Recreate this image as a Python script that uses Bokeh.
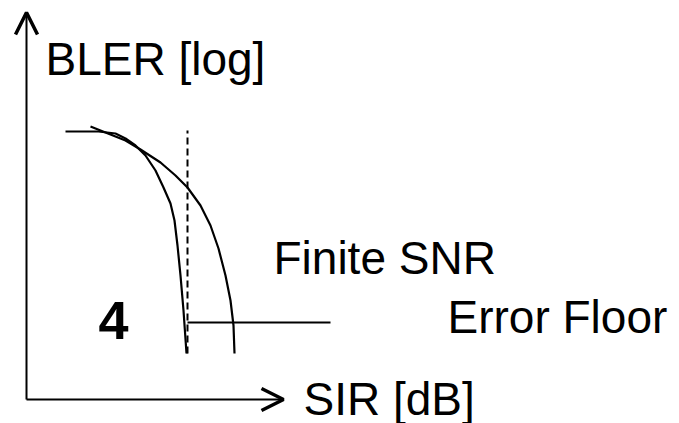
from bokeh.plotting import figure
from bokeh.models import Range1d, Arrow, OpenHead, ColumnDataSource
from bokeh.core.properties import value
from bokeh.embed import file_html
from bokeh.resources import INLINE

# Schematic curves (SIR in arbitrary dB units, BLER on log scale, arbitrary units)
sir_infinite = [3.9, 7.2, 8.9, 9.9, 10.9, 11.9, 12.9, 13.7, 14.4, 14.8, 15.1, 15.4, 15.7, 16.0]
bler_infinite = [26.8, 26.8, 26.6, 26.1, 25.4, 24.4, 22.9, 21.2, 19.6, 17.9, 15.4, 12.4, 8.9, 4.6]

sir_finite = [6.4, 8.4, 9.9, 11.4, 13.4, 14.9, 16.1, 17.4, 18.4, 19.2, 19.9, 20.4, 20.7, 20.8]
bler_finite = [27.3, 26.5, 25.9, 25.0, 23.7, 22.4, 21.2, 19.4, 17.4, 15.1, 12.4, 9.9, 7.4, 4.6]

threshold_sir = [16.1, 16.1]
threshold_bler = [4.6, 26.9]

floor_sir = [16.1, 30.4]
floor_bler = [7.7, 7.7]

axis_x_end = 25.7
axis_y_end = 38.7

labels = ["BLER [log]", "Finite SNR", "Error Floor", "SIR [dB]"]
label_x = [1.9, 24.7, 42.1, 27.7]
label_y = [34.1, 14.2, 8.3, 0.1]

mark_text = ["4"]
mark_x = [7.2]
mark_y = [7.9]

p = figure(width=679, height=423, output_backend="svg", toolbar_location=None,
           x_range=Range1d(-2.6, 65.3), y_range=Range1d(-2.4, 39.9),
           min_border=0, outline_line_color=None)
p.axis.visible = False
p.grid.visible = False
p.background_fill_color = "white"

p.line(sir_infinite, bler_infinite, line_color="black", line_width=2.2)
p.line(sir_finite, bler_finite, line_color="black", line_width=2.2)
p.line(threshold_sir, threshold_bler, line_color="black", line_width=2, line_dash="7 4")
p.line(floor_sir, floor_bler, line_color="black", line_width=2.2)

# axes with arrowheads
p.add_layout(Arrow(x_start=0, y_start=0, x_end=axis_x_end, y_end=0,
                   line_color="black", line_width=2,
                   end=OpenHead(size=22, line_width=3.5, line_color="black")))
p.add_layout(Arrow(x_start=0, y_start=0, x_end=0, y_end=axis_y_end,
                   line_color="black", line_width=2,
                   end=OpenHead(size=22, line_width=3.5, line_color="black")))

src = ColumnDataSource(dict(x=label_x, y=label_y, t=labels))
p.text(x="x", y="y", text="t", source=src, text_font=value("Liberation Sans"),
       text_font_size="46px", text_color="black", text_baseline="alphabetic",
       text_align="left")

msrc = ColumnDataSource(dict(x=mark_x, y=mark_y, t=mark_text))
p.text(x="x", y="y", text="t", source=msrc, text_font=value("Liberation Sans"),
       text_font_size="54px", text_font_style="bold", text_color="black",
       text_baseline="alphabetic", text_align="left")

open("out.html", "w").write(file_html(p, INLINE))
